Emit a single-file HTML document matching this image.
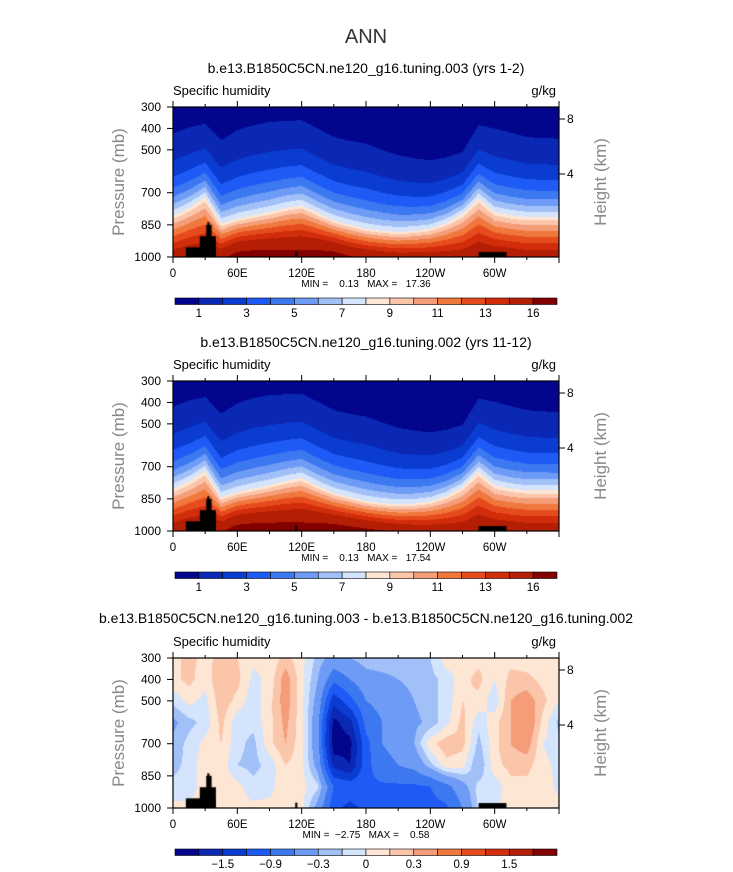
<!DOCTYPE html>
<html><head><meta charset="utf-8"><style>
body{margin:0;background:#fff;width:733px;height:872px;overflow:hidden;font-family:"Liberation Sans",sans-serif}
#root{position:relative;width:733px;height:872px}
canvas{position:absolute}
svg{position:absolute;left:0;top:0}
text{white-space:pre}
</style></head><body><div id="root">
<canvas id="c1" width="386" height="150" style="left:173px;top:107px"></canvas>
<canvas id="c2" width="386" height="150" style="left:173px;top:381px"></canvas>
<canvas id="c3" width="386" height="150" style="left:173px;top:658px"></canvas>
<svg id="ov" width="733" height="872"></svg>
</div>
<script>
// ---- data ----
const lonNodes=[0,15,30,45,60,75,90,105,120,135,150,165,180,195,210,225,240,255,270,285,300,315,330,345,360];
// panel 1: pressure of q=1 contour, q=8 contour, surface q
const p1Top=[424,395,378,455,409,385,370,365,362,400,440,458,471,500,525,540,549,535,510,385,401,420,440,445,448];
const p1Mid=[806,770,720,844,821,805,790,770,758,795,829,850,868,878,883,878,868,840,798,725,790,805,813,813,813];
const p1Sfc=[15,15.5,15.5,15.5,17,17.2,17.2,17.1,17,17.2,17.1,16.2,15.7,15.3,15,15,15,15,15,15.6,15.5,15.3,15,15,15];
// panel 2
const p2Top=[420,392,375,452,405,380,366,362,360,398,436,454,466,494,518,532,540,528,505,382,398,418,436,442,444];
const p2Mid=[803,768,718,842,818,802,786,766,752,790,822,842,860,870,876,872,862,836,795,722,786,802,810,810,810];
const p2Sfc=[15.2,15.7,15.7,15.8,17.2,17.4,17.4,17.3,17.2,17.4,17.4,17,16.6,16.1,15.7,15.4,15.3,15.2,15.2,15.8,15.6,15.4,15.2,15.2,15.2];
// panel 3: difference grid rows per lon node, columns per pressure level
const diffLevels=[300,400,500,600,700,800,900,1000];
const diffGrid=[
[0.1,0.1,-0.1,-0.35,-0.25,-0.2,-0.1,0.05],
[0.2,0.2,0.05,-0.2,-0.1,-0.1,-0.1,0.05],
[0.1,0.05,-0.05,-0.1,0.05,0.1,0.1,0.1],
[0.2,0.3,0.25,0.2,0.15,0.1,0.1,0.1],
[0.15,0.2,0.1,-0.1,-0.1,-0.15,0.05,0.05],
[0.05,-0.05,-0.1,-0.1,-0.2,-0.2,-0.1,0.05],
[0.05,0.05,0.1,0.1,0.1,-0.1,-0.05,0.05],
[0.2,0.4,0.4,0.35,0.3,0.15,0.1,0.05],
[0.05,0.05,0.05,0.05,0.05,0.05,0.05,0.05],
[-0.2,-0.3,-0.4,-0.5,-0.5,-0.4,-0.1,-0.4],
[-0.4,-0.8,-1.4,-1.9,-2.0,-1.6,-0.9,-1.1],
[-0.3,-0.6,-1.0,-1.6,-1.9,-1.8,-1.0,-1.3],
[-0.2,-0.4,-0.6,-0.8,-1.0,-1.0,-0.95,-1.1],
[-0.2,-0.35,-0.5,-0.6,-0.6,-0.7,-0.95,-1.0],
[-0.2,-0.3,-0.4,-0.5,-0.5,-0.6,-0.95,-1.0],
[-0.2,-0.25,-0.3,-0.35,-0.3,-0.5,-0.95,-1.0],
[-0.15,-0.2,-0.2,-0.25,0.1,-0.2,-0.9,-1.0],
[0.1,-0.1,-0.1,-0.05,0.25,0.1,-0.7,-0.95],
[0.05,0.1,0.15,0.2,0.2,0.05,-0.4,-0.6],
[0.1,0.2,0.1,-0.1,-0.2,-0.3,-0.1,-0.1],
[0.1,0.0,-0.1,0.1,0.1,0.1,-0.1,0.0],
[0.1,0.2,0.3,0.3,0.3,0.2,0.1,0.05],
[0.05,0.2,0.4,0.5,0.4,0.2,0.1,0.05],
[0.05,0.1,0.2,0.1,0.0,0.05,0.1,0.1],
[0.05,0.05,0.0,-0.2,-0.1,-0.05,-0.05,0.05]];
const qLevels=[1,2,3,4,5,6,7,8,9,10,11,12,13,14,16];
const dLevels=[-1.8,-1.5,-1.2,-0.9,-0.6,-0.3,-0.15,0,0.15,0.3,0.6,0.9,1.2,1.5,1.8];
const qLabels=['1','3','5','7','9','11','13','16'];
const dLabels=['-1.5','-0.9','-0.3','0','0.3','0.9','1.5'];
const xTickLabels=['0','60E','120E','180','120W','60W'];
const pTicks=[300,400,500,700,850,1000];
const hTicks=[8,4];
const colors=['#03068c','#0a28b4','#0a3cd2','#1e5af5','#3c78f0','#6e9bf5','#a2c0f8','#d4e4fc','#fde6d4','#fbc5aa','#f59c78','#f0783c','#e64b1e','#d22d0a','#b41e05','#820000'];
// land masks: [lon0, lon1, pressure top]
const landMain=[[12,40,955],[25,40,903],[31,36,850],[32,34,838],[114,116,975],[285,311,977]];
// ---- scales ----
const X0=173,W=386,H=150;
const xs=l=>l/360*W;
const ys=p=>(p-300)/700*H;
function interpLon(arr,l){let i=Math.min(Math.floor(l/15),23);const t=(l-lonNodes[i])/15;return arr[i]*(1-t)+arr[i+1]*t;}
function rgb(h){return [parseInt(h.slice(1,3),16),parseInt(h.slice(3,5),16),parseInt(h.slice(5,7),16)];}
const cols=colors.map(rgb);
function idx(v,lev){let k=0;while(k<lev.length&&v>=lev[k])k++;return k;}
function drawField(id,fn,lev){
  const cv=document.getElementById(id),ctx=cv.getContext('2d');const im=ctx.createImageData(W,H);
  for(let y=0;y<H;y++){const p=300+(y+0.5)/H*700;for(let x=0;x<W;x++){const l=(x+0.5)/W*360;const c=cols[idx(fn(l,p),lev)];const o=(y*W+x)*4;im.data[o]=c[0];im.data[o+1]=c[1];im.data[o+2]=c[2];im.data[o+3]=255;}}
  ctx.putImageData(im,0,0);
  ctx.fillStyle='#000';
  landMain.forEach(m=>{ctx.fillRect(xs(m[0]),ys(m[2]),xs(m[1])-xs(m[0]),H-ys(m[2]));});
}
function qField(top,mid,sfc){return (l,p)=>{const pt=interpLon(top,l),pm=interpLon(mid,l),qs=interpLon(sfc,l);
  if(p<=pm){const t=(p-pt)/(pm-pt);return Math.exp(t*Math.log(8));}
  return 8+(qs-8)*Math.pow((p-pm)/(1000-pm),0.8);};}
function dField(l,p){let i=Math.min(Math.floor(l/15),23);const t=(l-lonNodes[i])/15;
  let j=0;while(j<6&&p>diffLevels[j+1])j++;const u=(p-diffLevels[j])/(diffLevels[j+1]-diffLevels[j]);
  const a=diffGrid[i],b=diffGrid[i+1];
  return (a[j]*(1-u)+a[j+1]*u)*(1-t)+(b[j]*(1-u)+b[j+1]*u)*t;}
drawField('c1',qField(p1Top,p1Mid,p1Sfc),qLevels);
drawField('c2',qField(p2Top,p2Mid,p2Sfc),qLevels);
drawField('c3',dField,dLevels);
// ---- overlay ----
const NS='http://www.w3.org/2000/svg',ov=document.getElementById('ov');
function el(t,a,txt){const e=document.createElementNS(NS,t);for(const k in a)e.setAttribute(k,a[k]);if(txt!==undefined)e.textContent=txt;ov.appendChild(e);return e;}
function txt(x,y,s,size,anchor,name,fill){const e=el('text',{x:x,y:y,'font-size':size,'text-anchor':anchor||'middle',fill:fill||'#000'},s);

return e;}
const t0=txt(366,43,'ANN',20,'middle','figure-title','#333');
const panels=[
 {top:107,title:'b.e13.B1850C5CN.ne120_g16.tuning.003 (yrs 1-2)',minmax:'MIN =    0.13   MAX =   17.36',cb:298,lab:qLabels,lv:qLevels,ty:73},
 {top:381,title:'b.e13.B1850C5CN.ne120_g16.tuning.002 (yrs 11-12)',minmax:'MIN =    0.13   MAX =   17.54',cb:572,lab:qLabels,lv:qLevels,ty:347},
 {top:658,title:'b.e13.B1850C5CN.ne120_g16.tuning.003 - b.e13.B1850C5CN.ne120_g16.tuning.002',minmax:'MIN =  \u22122.75   MAX =    0.58',cb:849,lab:dLabels,lv:dLevels,ty:623}];
panels.forEach((P,n)=>{
  const T=P.top;
  txt(366,P.ty,P.title,14,'middle','panel-title');
  txt(173,T-12,'Specific humidity',13,'start','variable-label');
  txt(556,T-12,'g/kg',13,'end','units-label');
  const fr=el('rect',{x:X0,y:T,width:W,height:H,fill:'none',stroke:'#000','stroke-width':1.2});
  
  
  for(let d=0;d<=360;d+=30){const x=X0+xs(d),len=d%60==0?6:3;
    el('line',{x1:x,x2:x,y1:T+H,y2:T+H+len,stroke:'#000'});el('line',{x1:x,x2:x,y1:T,y2:T-len,stroke:'#000'});}
  xTickLabels.forEach((s,i)=>txt(X0+xs(i*60),T+H+20,s,11.5,'middle','x-tick-label'));
  txt(366,T+H+30,P.minmax,10,'middle','min-max-label');
  pTicks.forEach(p=>{const y=T+ys(p);el('line',{x1:X0-6,x2:X0,y1:y,y2:y,stroke:'#000'});txt(161,y+4,String(p),12,'end','y-tick-label');});
  const hy=[12,67];
  hTicks.forEach((h,i)=>{const y=T+hy[i];el('line',{x1:X0+W,x2:X0+W+6,y1:y,y2:y,stroke:'#000'});txt(567,y+4,String(h),12,'start','height-tick-label');});
  const yl=txt(0,0,'Pressure (mb)',17,'middle','y-axis-title','#888');yl.setAttribute('transform',`translate(124,${T+75}) rotate(-90)`);
  const hl=txt(0,0,'Height (km)',17,'middle','right-axis-title','#888');hl.setAttribute('transform',`translate(606,${T+75}) rotate(-90)`);
  // colorbar
  const cw=382/16;
  colors.forEach((c,i)=>{const r=el('rect',{x:175+i*cw,y:P.cb,width:cw,height:6.5,fill:c,stroke:'#000','stroke-width':0.6});
    
    });
  const step=P.lv===qLevels?[1,3,5,7,9,11,13,15]:[2,4,6,8,10,12,14];
  P.lab.forEach((s,i)=>txt(175+step[i]*cw,P.cb+19,s.replace('-','\u2212'),11.5,'middle','colorbar-label'));
});
</script></body></html>
